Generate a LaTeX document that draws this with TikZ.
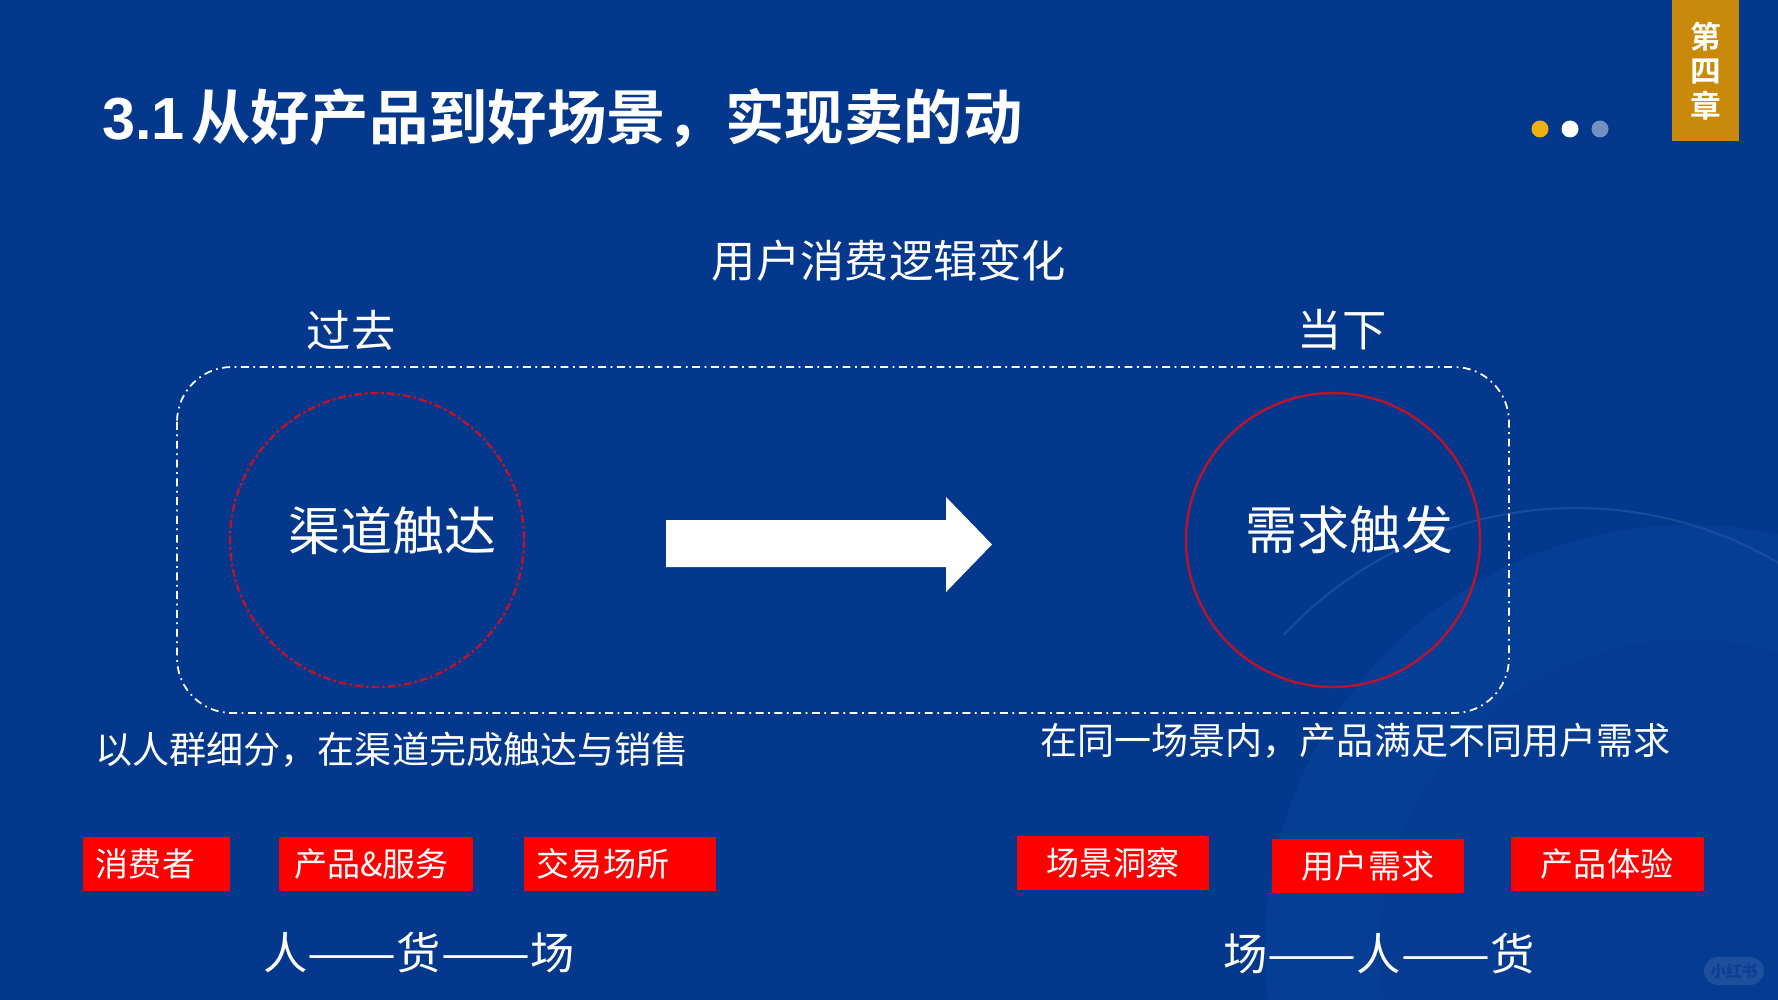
\documentclass[tikz,border=0pt]{standalone}
\usepackage{fontspec}
\setmainfont{Noto Sans CJK SC}
\newfontfamily\boldcjk{Noto Sans CJK SC}[BoldFont={Noto Sans CJK SC Bold}]
\newfontfamily\latinhead{Liberation Sans}
\definecolor{bgblue}{HTML}{04388C}
\definecolor{discA}{HTML}{063D95}
\definecolor{discB}{HTML}{053B91}
\definecolor{arcblue}{HTML}{174C9B}
\definecolor{tabgold}{HTML}{C98A0C}
\definecolor{dotgold}{HTML}{F0B00F}
\definecolor{dotgrey}{HTML}{7290C4}
\definecolor{ringred}{HTML}{B8142F}
\definecolor{markblue}{HTML}{1E4F9C}
\definecolor{markink}{HTML}{0B3F92}
\newcommand{\pxfont}[1]{\fontsize{#1}{#1}\selectfont}
\newcommand{\longdash}{\scalebox{1.2}[1]{——}}
\newcommand{\fwcomma}{^^^^ff0c}
\tikzset{
  x=0.02cm,y=-0.02cm,
  label text/.style={text=white,inner sep=0pt,anchor=center},
  size44/.style={label text,font=\pxfont{25.2}},
  size51/.style={label text,font=\pxfont{29.6}},
  size37/.style={label text,font=\pxfont{21.1}},
  redbox/.style={fill=red,draw=none,text=white,inner sep=0pt,minimum width=3.4cm,minimum height=1.09cm,font=\pxfont{18.8},anchor=center},
  outerframe/.style={draw=white,line width=1pt,rounded corners=1.1cm,dash pattern=on 4.5pt off 2.6pt on 1pt off 2.6pt},
  ring/.style={draw=ringred,line width=1.4pt},
  dotmark/.style={circle,minimum size=0.34cm,inner sep=0pt,draw=none},
}
\begin{document}
\begin{tikzpicture}
\path[use as bounding box,fill=bgblue] (0,0) rectangle (1778,1000);
\begin{scope}
\clip (0,0) rectangle (1778,1000);
\fill[discA] (1690,950) circle (425);
\fill[discB] (1690,950) circle (310);
\draw[arcblue,line width=1.2pt] (1576,908) ++(-137:400) arc[start angle=-137,end angle=-50,radius=400];
\end{scope}
% top right
\path[fill=tabgold] (1672,0) rectangle (1739,141);
\node[label text,font=\boldcjk\bfseries\pxfont{17.5},align=center] (tab) at (1706,71) {第\\[2pt]四\\[2pt]章};
\node[dotmark,fill=dotgold] (d1) at (1540,129) {};
\node[dotmark,fill=white] (d2) at (1570,129) {};
\node[dotmark,fill=dotgrey] (d3) at (1600,129) {};
% title
\node[text=white,inner sep=0pt,anchor=west,font=\boldcjk\bfseries\pxfont{33.8}] (title) at (102,118) {{\latinhead\bfseries 3.1}\kern3.5pt 从好产品到好场景\fwcomma 实现卖的动};
\node[size44] (sub) at (889,261) {用户消费逻辑变化};
\node[size44] (past) at (351,330) {过去};
\node[size44] (now) at (1342,330) {当下};
% frame and circles
\draw[outerframe] (177,367) rectangle (1509,713);
\draw[ring,dash pattern=on 4.5pt off 1.6pt on 1.6pt off 1.6pt] (377,540) circle (147);
\draw[ring] (1333,540) circle (147);
\node[size51] (left) at (392.5,531) {渠道触达};
\node[size51] (right) at (1349,530) {需求触发};
% arrow
\path[fill=white] (666,520) -- (946,520) -- (946,497) -- (992,544.5) -- (946,592) -- (946,567) -- (666,567) -- cycle;
% captions
\node[size37] (capl) at (392,749.5) {以人群细分\fwcomma 在渠道完成触达与销售};
\node[size37] (capr) at (1355.5,741) {在同一场景内\fwcomma 产品满足不同用户需求};
% red boxes
\node[redbox,minimum width=2.94cm] (b1) at (156.5,864) {\hspace*{-0.44cm}消费者};
\node[redbox,minimum width=3.88cm] (b2) at (376,864) {\hspace*{-0.18cm}产品\&服务};
\node[redbox,minimum width=3.86cm] (b3) at (620,864) {\hspace*{-0.68cm}交易场所};
\node[redbox,minimum width=3.86cm] (b4) at (1113,863) {场景洞察};
\node[redbox,minimum width=3.86cm] (b5) at (1368,866) {用户需求};
\node[redbox,minimum width=3.86cm] (b6) at (1607,864) {产品体验};
\node[size44] (l1) at (419,953) {人\longdash 货\longdash 场};
\node[size44] (l2) at (1379,954) {场\longdash 人\longdash 货};
% watermark
\node[fill=markblue,rounded corners=0.28cm,minimum width=1.2cm,minimum height=0.56cm,inner sep=0pt,text=markink,font=\bfseries\pxfont{9}] (mark) at (1734,971) {小红书};
\end{tikzpicture}
\end{document}
